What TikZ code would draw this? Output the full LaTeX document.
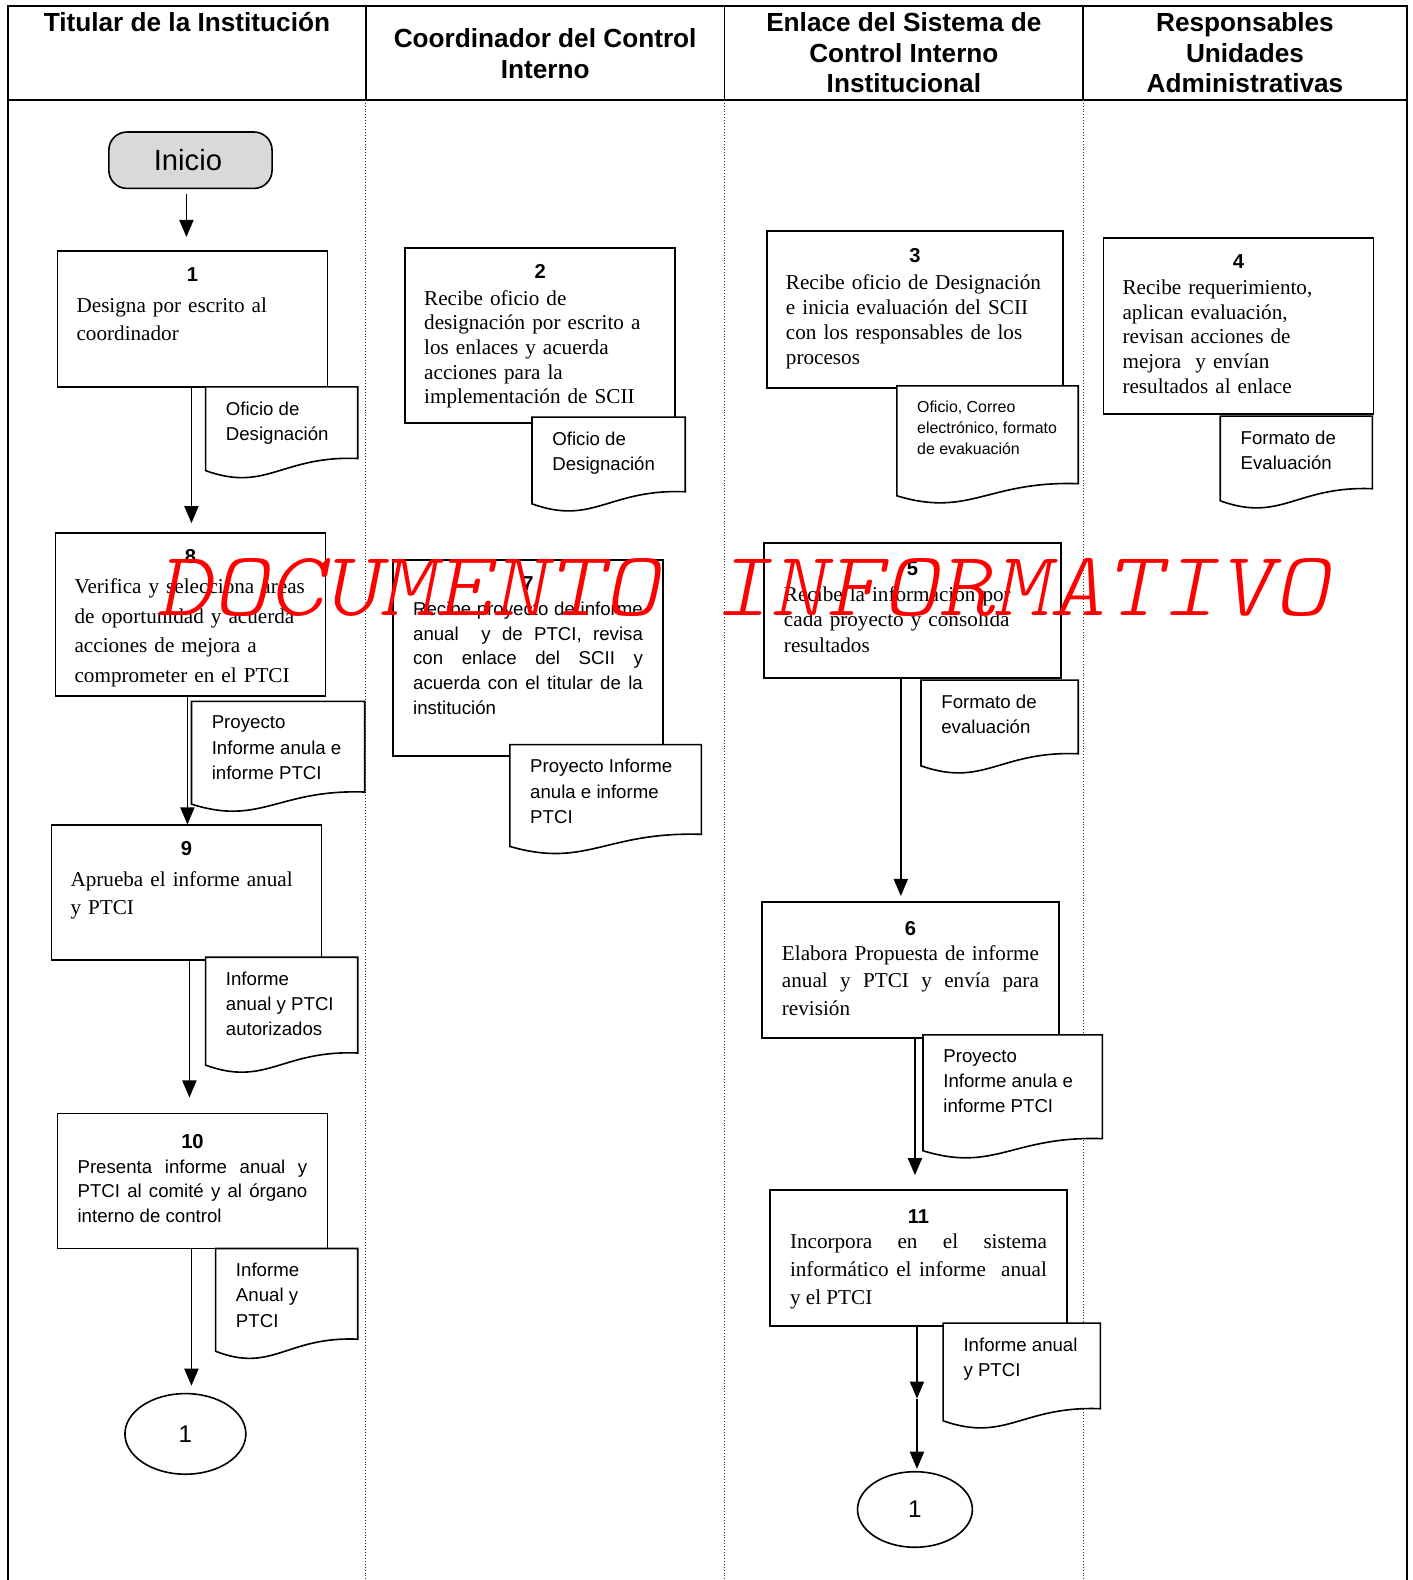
\documentclass[tikz,border=0pt]{standalone}
\usepackage{fontspec}
\setmainfont{Liberation Serif}
\setsansfont{Liberation Sans}
\newfontfamily\marcafont[FakeSlant=0.2,FakeStretch=1.16]{Latin Modern Mono Light}
\usetikzlibrary{arrows.meta,shapes.geometric}

\newcommand{\numpaso}[1]{\noindent\makebox[\linewidth]{\sffamily\bfseries\fontsize{20}{20}\selectfont #1}}
\newcommand{\docu}[7]{%
  \draw[docline] (#2,#3) -- (#2+#4,#3) -- (#2+#4,#3+#5)
    .. controls (#2+0.5*#4,#3+#5-3) and (#2+0.4*#4,#3+#5+34) .. (#2,#3+#5+12) -- cycle;
  \node[doctext,#6,anchor=north west] (#1) at (#2+20,#3+14.5) {#7};
}

\begin{document}
\begin{tikzpicture}[x=1pt,y=-1pt,
  frame/.style={line width=1.6pt},
  sep/.style={dotted, line width=0.9pt, black!80},
  colhead/.style={inner sep=0pt, align=center, font=\sffamily\bfseries\fontsize{26}{30}\selectfont},
  proc/.style={draw, line width=1.6pt, rectangle, inner sep=0pt},
  ptext/.style={inner sep=0pt, align=left, execute at begin node=\setlength\parindent{0pt}},
  jtext/.style={inner sep=0pt, align=justify, execute at begin node=\setlength\parindent{0pt}},
  ser/.style={font=\fontsize{21}{#1}\selectfont},
  san/.style={font=\sffamily\fontsize{18.5}{#1}\selectfont},
  docline/.style={draw, line width=1.6pt, fill=white},
  doctext/.style={inner sep=0pt, align=left, font=\sffamily\fontsize{18.5}{25}\selectfont},
  conector/.style={ellipse, draw, line width=1.6pt, inner sep=0pt, font=\sffamily\fontsize{24}{24}\selectfont},
  arr/.style={line width=1.8pt, -{Triangle[length=17pt,width=14pt]}}]
\useasboundingbox (0,0) rectangle (1402,1568);

% marco y carriles
\draw[frame] (8,1568) -- (8,6) -- (1396,6) -- (1396,1568);
\draw[frame] (8,99) -- (1396,99);
\draw[frame] (363,6) -- (363,99);
\draw[frame] (719,6) -- (719,99);
\draw[frame] (1075,6) -- (1075,99);
\draw[sep] (363,99) -- (363,1568);
\draw[sep] (719,99) -- (719,1568);
\draw[sep] (1075,99) -- (1075,1568);

\node[colhead, anchor=north] (h1) at (185.5,12) {Titular de la Institución};
\node[colhead, anchor=north] (h2) at (541,28.5) {Coordinador del Control\\Interno};
\node[colhead, anchor=north] (h3) at (897,12.5) {Enlace del Sistema de\\Control Interno\\Institucional};
\node[colhead, anchor=north] (h4) at (1235.5,12.5) {Responsables\\Unidades\\Administrativas};

% inicio
\node[draw, line width=1.6pt, fill=gray!30, rounded corners=18pt, minimum width=162, minimum height=56,
  font=\sffamily\fontsize{29}{29}\selectfont] (ini) at (189,159) {\hspace{-5pt}Inicio};

% actividades
\node[proc, minimum width=268, minimum height=135] (p1) at (191,316.5) {};
\node[ptext, ser=28, text width=230, anchor=north] (t1) at ([yshift=-17pt]p1.north)
  {\numpaso{1}\\[2.5pt]Designa por escrito al\\coordinador};

\node[proc, minimum width=268, minimum height=174] (p2) at (536,333) {};
\node[ptext, ser=24.5, text width=230, anchor=north] (t2) at ([yshift=-17pt]p2.north)
  {\numpaso{2}\\[2pt]Recibe oficio de\\designación por escrito a\\los enlaces y acuerda\\acciones para la\\implementación de SCII};

\node[proc, minimum width=294, minimum height=156] (p3) at (908,307) {};
\node[ptext, ser=24.7, text width=256, anchor=north] (t3) at ([yshift=-18.5pt]p3.north)
  {\numpaso{3}\\[2pt]Recibe oficio de Designación\\e inicia evaluación del SCII\\con los responsables de los\\procesos};

\node[proc, minimum width=268, minimum height=175] (p4) at (1229,323.5) {};
\node[ptext, ser=24.5, text width=230, anchor=north] (t4) at ([yshift=-17.5pt]p4.north)
  {\numpaso{4}\\[1pt]Recibe requerimiento,\\aplican evaluación,\\revisan acciones de\\mejora\ \ y envían\\resultados al enlace};

\node[proc, minimum width=268, minimum height=162] (p8) at (189,610) {};
\node[ptext, ser=29.3, text width=230, anchor=north] (t8) at ([yshift=-16.5pt]p8.north)
  {\numpaso{8}\\[1pt]Verifica y selecciona áreas\\de oportunidad y acuerda\\acciones de mejora a\\comprometer en el PTCI};

\node[proc, minimum width=268, minimum height=194] (p7) at (524,653) {};
\node[jtext, san=24.5, text width=228, anchor=north] (t7) at ([yshift=-16.5pt]p7.north)
  {\numpaso{7}\\[0.5pt]Recibe proyecto de informe\linebreak anual\ \ y de PTCI, revisa\linebreak con enlace del SCII y\linebreak acuerda con el titular de la\linebreak institución};

\node[proc, minimum width=295, minimum height=134] (p5) at (905.5,606) {};
\node[ptext, ser=25.5, text width=255, anchor=north] (t5) at ([yshift=-19pt]p5.north)
  {\numpaso{5}\\Recibe la información por\\cada proyecto y consolida\\resultados};

\node[proc, minimum width=268, minimum height=134] (p9) at (185,886) {};
\node[ptext, ser=28, text width=230, anchor=north] (t9) at ([yshift=-16.5pt]p9.north)
  {\numpaso{9}\\[2.5pt]Aprueba el informe anual\\y PTCI};

\node[proc, minimum width=295, minimum height=135] (p6) at (903.5,962.5) {};
\node[jtext, ser=27.5, text width=255, anchor=north] (t6) at ([yshift=-20pt]p6.north)
  {\numpaso{6}\\[-3pt]Elabora Propuesta de informe\linebreak anual y PTCI y envía para\linebreak revisión};

\node[proc, minimum width=268, minimum height=134] (p10) at (191,1172) {};
\node[jtext, san=24.5, text width=228, anchor=north] (t10) at ([yshift=-21.5pt]p10.north)
  {\numpaso{10}\\Presenta informe anual y\linebreak PTCI al comité y al órgano\linebreak interno de control};

\node[proc, minimum width=295, minimum height=135] (p11) at (911.5,1248.5) {};
\node[jtext, ser=27.5, text width=255, anchor=north] (t11) at ([yshift=-20.5pt]p11.north)
  {\numpaso{11}\\[-3pt]Incorpora en el sistema\linebreak informático el informe\ \ anual\linebreak y el PTCI};

% conectores de pagina
\node[conector, minimum width=120, minimum height=80] (c1) at (184,1423) {1};
\node[conector, minimum width=114, minimum height=75] (c2) at (908,1498) {1};
\coordinate (m11) at (910,1388);

% flechas
\draw[arr, shorten <=5pt, shorten >=13pt] ([xshift=-4pt]ini.south) -- ([xshift=-6pt]p1.north);
\draw[arr, shorten >=9pt] ([xshift=-1pt]p1.south) -- ([xshift=1pt]p8.north);
\draw[arr] ([xshift=-3pt]p8.south) -- ([xshift=1pt]p9.north);
\draw[arr, shorten >=15pt] ([xshift=3pt]p9.south) -- ([xshift=-3pt]p10.north);
\draw[arr, shorten >=7pt] ([xshift=-1pt]p10.south) -- ([xshift=6pt]c1.north);
\draw[arr, shorten >=5pt] ([xshift=-11.5pt]p5.south) -- ([xshift=-9.5pt]p6.north);
\draw[arr, shorten >=14pt] ([xshift=4.5pt]p6.south) -- ([xshift=-3.5pt]p11.north);
\draw[arr] ([xshift=-1.5pt]p11.south) -- (m11);
\draw[arr, shorten >=2pt] (m11) -- (c2.north -| m11);

% documentos
\docu{d1}{204}{384}{151}{71}{}{Oficio de\\Designación}
\docu{d2}{528}{414}{152}{74}{}{Oficio de\\Designación}
\docu{d3}{890}{383}{180}{97}{font=\sffamily\fontsize{15.8}{21}\selectfont}{Oficio, Correo\\electrónico, formato\\de evakuación}
\docu{d4}{1211}{413}{151}{72}{}{Formato de\\Evaluación}
\docu{d8}{190}{696}{172}{90}{}{Proyecto\\Informe anula e\\informe PTCI}
\docu{d7}{506}{739}{190}{89}{}{Proyecto Informe\\anula e informe\\PTCI}
\docu{d5}{914}{675}{156}{73}{}{Formato de\\evaluación}
\docu{d9}{204}{950}{151}{95}{}{Informe\\anual y PTCI\\autorizados}
\docu{d6}{916}{1027}{178}{103}{}{Proyecto\\Informe anula e\\informe PTCI}
\docu{d10}{214}{1239}{141}{90}{}{Informe\\Anual y\\PTCI}
\docu{d11}{936}{1313}{156}{85}{}{Informe anual\\y PTCI}

% marca de agua
\node[anchor=base west, inner sep=0pt, text=red, font=\marcafont\fontsize{91}{91}\selectfont] (marca) at (155,611) {DOCUMENTO INFORMATIVO};
\end{tikzpicture}
\end{document}
